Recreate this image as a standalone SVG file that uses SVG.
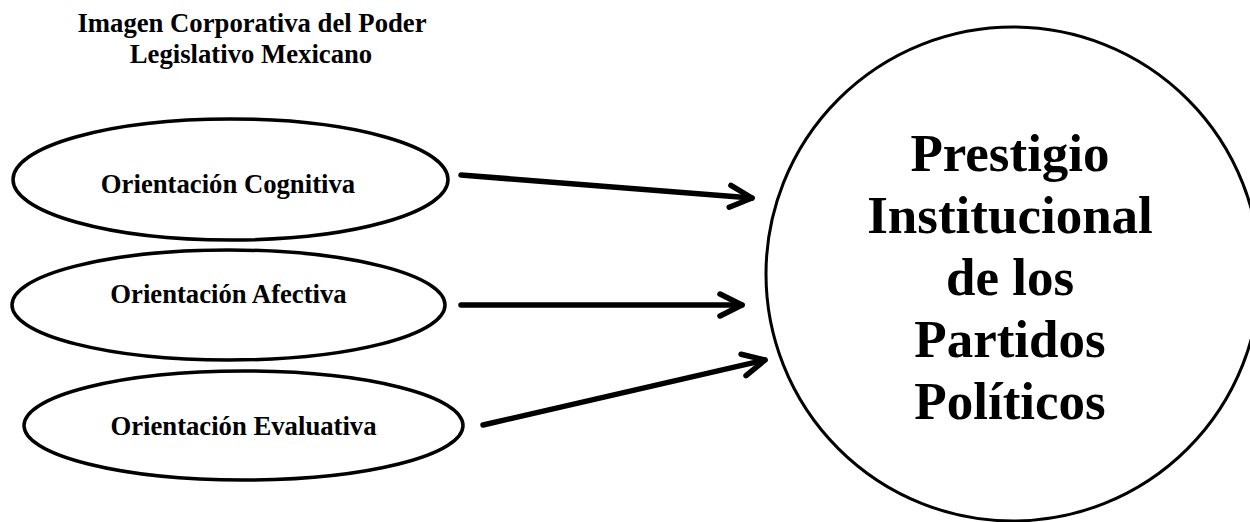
<svg xmlns="http://www.w3.org/2000/svg" width="1250" height="522" viewBox="0 0 1250 522">
  <style>
    .node { fill: #ffffff; stroke: #000000; stroke-width: 3.5; }
    .lbl { font-family: "Liberation Serif", "Times New Roman", serif; font-weight: bold; fill: #000000; text-anchor: middle; }
    .small { font-size: 26.7px; }
    .big { font-size: 53px; }
    .conn { fill: none; stroke: #000000; stroke-width: 5.5; stroke-linecap: round; }
  </style>
  <defs>
    <marker id="arrow" markerUnits="userSpaceOnUse" viewBox="-30 -16 36 32" refX="0" refY="0" markerWidth="36" markerHeight="32" orient="auto">
      <path d="M -22 -11 L 0 0 L -22 11" fill="none" stroke="#000000" stroke-width="5.5" stroke-linecap="round" stroke-linejoin="round"/>
    </marker>
  </defs>
  <rect x="0" y="0" width="1250" height="522" fill="#ffffff"/>

  <g id="title">
    <text class="lbl small" x="252" y="32">Imagen Corporativa del Poder</text>
    <text class="lbl small" x="251" y="63">Legislativo Mexicano</text>
  </g>

  <g id="node-cognitiva">
    <ellipse class="node" cx="230.5" cy="179.5" rx="217.5" ry="60.5"/>
    <text class="lbl small" x="228" y="193">Orientación Cognitiva</text>
  </g>

  <g id="node-afectiva">
    <ellipse class="node" cx="228.5" cy="305" rx="216.5" ry="55"/>
    <text class="lbl small" x="228.5" y="303">Orientación Afectiva</text>
  </g>

  <g id="node-evaluativa">
    <ellipse class="node" cx="243.5" cy="425.5" rx="219.5" ry="54.5"/>
    <text class="lbl small" x="243.5" y="435">Orientación Evaluativa</text>
  </g>

  <g id="node-prestigio">
    <circle class="node" cx="1013" cy="274" r="247" style="stroke-width:3"/>
    <text class="lbl big" x="1010" y="171">Prestigio</text>
    <text class="lbl big" x="1010" y="233">Institucional</text>
    <text class="lbl big" x="1010" y="295">de los</text>
    <text class="lbl big" x="1010" y="357">Partidos</text>
    <text class="lbl big" x="1010" y="419">Políticos</text>
  </g>

  <g id="connectors">
    <line class="conn" x1="461" y1="175" x2="752" y2="198" marker-end="url(#arrow)"/>
    <line class="conn" x1="461" y1="305" x2="742" y2="305" marker-end="url(#arrow)"/>
    <line class="conn" x1="483" y1="425" x2="765" y2="360" marker-end="url(#arrow)"/>
  </g>
</svg>
